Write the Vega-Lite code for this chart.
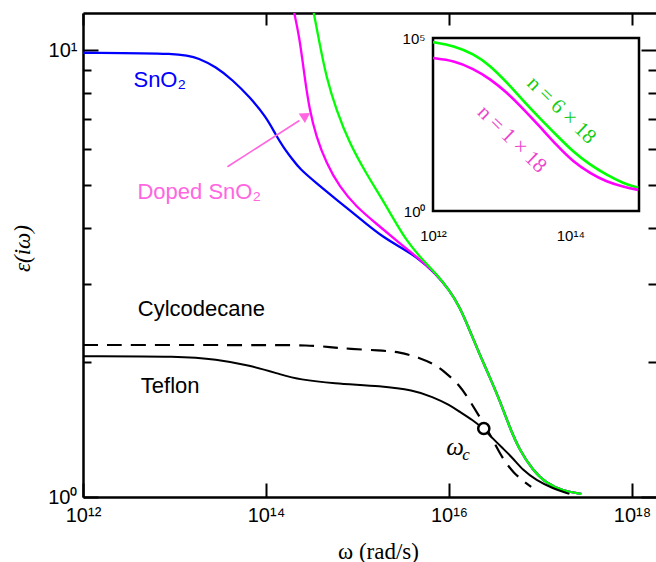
{
  "$schema": "https://vega.github.io/schema/vega-lite/v6.json",
  "width": 573,
  "height": 484,
  "autosize": {"type": "none"},
  "padding": {"left": 83, "top": 13, "right": 0, "bottom": 65},
  "background": "white",
  "config": {
    "view": {"stroke": null},
    "axis": {
      "domainColor": "black", "domainWidth": 2.5, "tickColor": "black", "tickWidth": 2,
      "labelColor": "black", "labelFont": "Liberation Sans", "labelFontSize": 20,
      "grid": false, "labelFlush": false, "labelOverlap": false, "labelBound": false,
      "zindex": 1, "titleColor": "black"
    }
  },
  "datasets": {
    "curves": [
      {"series": "SnO2", "w": 1e12, "eps": 9.86},
      {"series": "SnO2", "w": 1.22e13, "eps": 9.84},
      {"series": "SnO2", "w": 1.86e13, "eps": 9.57},
      {"series": "SnO2", "w": 2.82e13, "eps": 9.18},
      {"series": "SnO2", "w": 4.31e13, "eps": 8.57},
      {"series": "SnO2", "w": 6.55e13, "eps": 7.87},
      {"series": "SnO2", "w": 9.95e13, "eps": 7.10},
      {"series": "SnO2", "w": 1.28e14, "eps": 6.46},
      {"series": "SnO2", "w": 1.53e14, "eps": 6.08},
      {"series": "SnO2", "w": 1.96e14, "eps": 5.68},
      {"series": "SnO2", "w": 2.32e14, "eps": 5.43},
      {"series": "SnO2", "w": 3.54e14, "eps": 5.04},
      {"series": "SnO2", "w": 5.37e14, "eps": 4.70},
      {"series": "SnO2", "w": 8.19e14, "eps": 4.38},
      {"series": "SnO2", "w": 1.24e15, "eps": 4.09},
      {"series": "SnO2", "w": 1.89e15, "eps": 3.82},
      {"series": "SnO2", "w": 2.88e15, "eps": 3.63},
      {"series": "SnO2", "w": 4.38e15, "eps": 3.45},
      {"series": "SnO2", "w": 7.24e15, "eps": 3.16},
      {"series": "SnO2", "w": 1.01e16, "eps": 2.90},
      {"series": "SnO2", "w": 1.30e16, "eps": 2.67},
      {"series": "SnO2", "w": 1.67e16, "eps": 2.37},
      {"series": "SnO2", "w": 2.15e16, "eps": 2.09},
      {"series": "SnO2", "w": 2.77e16, "eps": 1.86},
      {"series": "SnO2", "w": 3.56e16, "eps": 1.65},
      {"series": "SnO2", "w": 4.58e16, "eps": 1.435},
      {"series": "SnO2", "w": 5.89e16, "eps": 1.274},
      {"series": "SnO2", "w": 8.24e16, "eps": 1.148},
      {"series": "SnO2", "w": 1.15e17, "eps": 1.074},
      {"series": "SnO2", "w": 1.75e17, "eps": 1.033},
      {"series": "SnO2", "w": 2.79e17, "eps": 1.016},

      {"series": "Doped1", "w": 1.95e14, "eps": 12.6},
      {"series": "Doped1", "w": 2.32e14, "eps": 10.72},
      {"series": "Doped1", "w": 2.64e14, "eps": 8.71},
      {"series": "Doped1", "w": 2.99e14, "eps": 7.35},
      {"series": "Doped1", "w": 3.54e14, "eps": 6.40},
      {"series": "Doped1", "w": 4.55e14, "eps": 5.59},
      {"series": "Doped1", "w": 6.35e14, "eps": 4.94},
      {"series": "Doped1", "w": 9.68e14, "eps": 4.46},
      {"series": "Doped1", "w": 1.60e15, "eps": 4.09},
      {"series": "Doped1", "w": 2.88e15, "eps": 3.70},
      {"series": "Doped1", "w": 4.38e15, "eps": 3.45},
      {"series": "Doped1", "w": 7.24e15, "eps": 3.16},
      {"series": "Doped1", "w": 1.01e16, "eps": 2.90},
      {"series": "Doped1", "w": 1.30e16, "eps": 2.67},
      {"series": "Doped1", "w": 1.67e16, "eps": 2.37},
      {"series": "Doped1", "w": 2.15e16, "eps": 2.09},
      {"series": "Doped1", "w": 2.77e16, "eps": 1.86},
      {"series": "Doped1", "w": 3.56e16, "eps": 1.65},
      {"series": "Doped1", "w": 4.58e16, "eps": 1.435},
      {"series": "Doped1", "w": 5.89e16, "eps": 1.274},
      {"series": "Doped1", "w": 8.24e16, "eps": 1.148},
      {"series": "Doped1", "w": 1.15e17, "eps": 1.074},
      {"series": "Doped1", "w": 1.75e17, "eps": 1.033},
      {"series": "Doped1", "w": 2.79e17, "eps": 1.016},

      {"series": "Doped6", "w": 3.22e14, "eps": 12.6},
      {"series": "Doped6", "w": 3.33e14, "eps": 12.08},
      {"series": "Doped6", "w": 3.85e14, "eps": 10.35},
      {"series": "Doped6", "w": 4.55e14, "eps": 8.71},
      {"series": "Doped6", "w": 5.85e14, "eps": 7.35},
      {"series": "Doped6", "w": 8.19e14, "eps": 6.18},
      {"series": "Doped6", "w": 1.24e15, "eps": 5.30},
      {"series": "Doped6", "w": 1.89e15, "eps": 4.61},
      {"series": "Doped6", "w": 2.65e15, "eps": 4.09},
      {"series": "Doped6", "w": 3.40e15, "eps": 3.76},
      {"series": "Doped6", "w": 4.76e15, "eps": 3.45},
      {"series": "Doped6", "w": 7.24e15, "eps": 3.16},
      {"series": "Doped6", "w": 1.01e16, "eps": 2.90},
      {"series": "Doped6", "w": 1.30e16, "eps": 2.67},
      {"series": "Doped6", "w": 1.67e16, "eps": 2.37},
      {"series": "Doped6", "w": 2.15e16, "eps": 2.09},
      {"series": "Doped6", "w": 2.77e16, "eps": 1.86},
      {"series": "Doped6", "w": 3.56e16, "eps": 1.65},
      {"series": "Doped6", "w": 4.58e16, "eps": 1.435},
      {"series": "Doped6", "w": 5.89e16, "eps": 1.274},
      {"series": "Doped6", "w": 8.24e16, "eps": 1.148},
      {"series": "Doped6", "w": 1.15e17, "eps": 1.074},
      {"series": "Doped6", "w": 1.75e17, "eps": 1.033},
      {"series": "Doped6", "w": 2.79e17, "eps": 1.016},

      {"series": "Cyclo", "w": 1e12, "eps": 2.188},
      {"series": "Cyclo", "w": 1e14, "eps": 2.188},
      {"series": "Cyclo", "w": 2.96e14, "eps": 2.185},
      {"series": "Cyclo", "w": 5.0e14, "eps": 2.165},
      {"series": "Cyclo", "w": 8.11e14, "eps": 2.145},
      {"series": "Cyclo", "w": 1.74e15, "eps": 2.128},
      {"series": "Cyclo", "w": 2.88e15, "eps": 2.11},
      {"series": "Cyclo", "w": 4.76e15, "eps": 2.05},
      {"series": "Cyclo", "w": 7.24e15, "eps": 1.972},
      {"series": "Cyclo", "w": 9.31e15, "eps": 1.892},
      {"series": "Cyclo", "w": 1.30e16, "eps": 1.782},
      {"series": "Cyclo", "w": 1.67e16, "eps": 1.648},
      {"series": "Cyclo", "w": 2.15e16, "eps": 1.514},
      {"series": "Cyclo", "w": 2.77e16, "eps": 1.390},
      {"series": "Cyclo", "w": 3.56e16, "eps": 1.253},
      {"series": "Cyclo", "w": 4.98e16, "eps": 1.130},
      {"series": "Cyclo", "w": 7.91e16, "eps": 1.054},

      {"series": "Teflon", "w": 1e12, "eps": 2.065},
      {"series": "Teflon", "w": 1.22e13, "eps": 2.065},
      {"series": "Teflon", "w": 2.82e13, "eps": 2.032},
      {"series": "Teflon", "w": 6.55e13, "eps": 1.972},
      {"series": "Teflon", "w": 1.51e14, "eps": 1.875},
      {"series": "Teflon", "w": 2.31e14, "eps": 1.832},
      {"series": "Teflon", "w": 5.33e14, "eps": 1.795},
      {"series": "Teflon", "w": 1.87e15, "eps": 1.770},
      {"series": "Teflon", "w": 4.02e15, "eps": 1.734},
      {"series": "Teflon", "w": 6.65e15, "eps": 1.675},
      {"series": "Teflon", "w": 1.01e16, "eps": 1.607},
      {"series": "Teflon", "w": 1.30e16, "eps": 1.552},
      {"series": "Teflon", "w": 1.82e16, "eps": 1.486},
      {"series": "Teflon", "w": 2.34e16, "eps": 1.426},
      {"series": "Teflon", "w": 3.01e16, "eps": 1.352},
      {"series": "Teflon", "w": 3.87e16, "eps": 1.285},
      {"series": "Teflon", "w": 4.98e16, "eps": 1.222},
      {"series": "Teflon", "w": 6.41e16, "eps": 1.148},
      {"series": "Teflon", "w": 8.97e16, "eps": 1.091},
      {"series": "Teflon", "w": 1.36e17, "eps": 1.045},
      {"series": "Teflon", "w": 2.07e17, "eps": 1.016}
    ],
    "inset": [
      {"series": "n6", "w": 1e12, "eps": 75860},
      {"series": "n6", "w": 2.00e12, "eps": 60256},
      {"series": "n6", "w": 3.89e12, "eps": 34674},
      {"series": "n6", "w": 6.76e12, "eps": 16218},
      {"series": "n6", "w": 1.17e13, "eps": 5370},
      {"series": "n6", "w": 2.04e13, "eps": 1585},
      {"series": "n6", "w": 3.63e13, "eps": 468},
      {"series": "n6", "w": 6.31e13, "eps": 155},
      {"series": "n6", "w": 1.10e14, "eps": 51.3},
      {"series": "n6", "w": 1.95e14, "eps": 21.4},
      {"series": "n6", "w": 3.39e14, "eps": 11.0},
      {"series": "n6", "w": 5.89e14, "eps": 6.31},
      {"series": "n6", "w": 9.77e14, "eps": 4.68},
      {"series": "n1", "w": 1e12, "eps": 26303},
      {"series": "n1", "w": 2.00e12, "eps": 22387},
      {"series": "n1", "w": 3.89e12, "eps": 12882},
      {"series": "n1", "w": 6.76e12, "eps": 6607},
      {"series": "n1", "w": 1.17e13, "eps": 2754},
      {"series": "n1", "w": 2.04e13, "eps": 912},
      {"series": "n1", "w": 3.63e13, "eps": 269},
      {"series": "n1", "w": 6.31e13, "eps": 79.4},
      {"series": "n1", "w": 1.10e14, "eps": 26.3},
      {"series": "n1", "w": 1.95e14, "eps": 12.3},
      {"series": "n1", "w": 3.39e14, "eps": 6.92},
      {"series": "n1", "w": 5.89e14, "eps": 5.01},
      {"series": "n1", "w": 9.77e14, "eps": 4.07}
    ]
  },
  "layer": [
    {
      "data": {"name": "curves"},
      "encoding": {
        "x": {"field": "w", "type": "quantitative", "scale": {"type": "log", "domain": [1e12, 1.83e18], "nice": false}, "axis": null},
        "y": {"field": "eps", "type": "quantitative", "scale": {"type": "log", "domain": [1, 12.1], "nice": false}, "axis": null}
      },
      "layer": [
        {
          "transform": [{"filter": "datum.series == 'SnO2'"}],
          "mark": {"type": "line", "color": "#0000ff", "strokeWidth": 2.3, "interpolate": "basis", "clip": true},
          "encoding": {
            "x": {"field": "w", "type": "quantitative", "scale": {"type": "log", "domain": [1e12, 1.83e18], "nice": false},
              "axis": {"orient": "bottom", "values": [1e12, 1e14, 1e16, 1e18], "tickSize": -14, "labelPadding": 22,
                "labelExpr": "datum.value < 1e13 ? '10¹²' : datum.value < 1e15 ? '10¹⁴' : datum.value < 1e17 ? '10¹⁶' : '10¹⁸'",
                "title": "ω (rad/s)", "titleFont": "Liberation Serif", "titleFontSize": 23, "titleFontWeight": "normal",
                "titleX": 295, "titleY": 61, "titleAlign": "center", "titleBaseline": "alphabetic"}},
            "y": {"field": "eps", "type": "quantitative", "scale": {"type": "log", "domain": [1, 12.1], "nice": false},
              "axis": {"orient": "left", "values": [1, 10], "tickSize": -15, "labelPadding": 21, "labelBaseline": "middle",
                "labelExpr": "datum.value < 5 ? '10⁰' : '10¹'",
                "title": "ε(iω)", "titleFont": "Liberation Serif", "titleFontStyle": "italic", "titleFontSize": 23, "titleFontWeight": "normal",
                "titleAngle": -90, "titleX": -61, "titleY": 235, "titleAlign": "center", "titleBaseline": "middle"}}
          }
        },
        {
          "transform": [{"filter": "datum.series == 'Doped1'"}],
          "mark": {"type": "line", "color": "#ff00ff", "strokeWidth": 2.3, "interpolate": "basis", "clip": true},
          "encoding": {
            "x": {"field": "w", "type": "quantitative", "scale": {"type": "log", "domain": [1e12, 1.83e18], "nice": false},
              "axis": {"orient": "top", "values": [1e12, 1e14, 1e16, 1e18], "tickSize": -12, "labels": false, "title": null}},
            "y": {"field": "eps", "type": "quantitative", "scale": {"type": "log", "domain": [1, 12.1], "nice": false},
              "axis": {"orient": "left", "values": [2, 3, 4, 5, 6, 7, 8, 9], "tickSize": -8, "labels": false, "domain": false, "title": null}}
          }
        },
        {
          "transform": [{"filter": "datum.series == 'Doped6'"}],
          "mark": {"type": "line", "color": "#00ff00", "strokeWidth": 2.3, "interpolate": "basis", "clip": true},
          "encoding": {
            "y": {"field": "eps", "type": "quantitative", "scale": {"type": "log", "domain": [1, 12.1], "nice": false},
              "axis": {"orient": "right", "values": [1, 10], "tickSize": -15, "labels": false, "domain": false, "title": null}}
          }
        },
        {
          "transform": [{"filter": "datum.series == 'Cyclo'"}],
          "mark": {"type": "line", "color": "black", "strokeWidth": 2.2, "strokeDash": [15, 9], "interpolate": "basis", "clip": true},
          "encoding": {
            "y": {"field": "eps", "type": "quantitative", "scale": {"type": "log", "domain": [1, 12.1], "nice": false},
              "axis": {"orient": "right", "values": [2, 3, 4, 5, 6, 7, 8, 9], "tickSize": -8, "labels": false, "domain": false, "title": null}}
          }
        },
        {
          "transform": [{"filter": "datum.series == 'Teflon'"}],
          "mark": {"type": "line", "color": "black", "strokeWidth": 2, "interpolate": "basis", "clip": true}
        },
        {
          "data": {"values": [{"w": 3.79e13, "eps": 5.48}, {"w": 2.32e14, "eps": 6.956}]},
          "mark": {"type": "line", "color": "#ff66e0", "strokeWidth": 1.6}
        },
        {
          "data": {"values": [{"w": 2.64e14, "eps": 7.10}]},
          "mark": {"type": "point", "shape": "triangle", "angle": 57, "size": 130, "filled": true, "color": "#ff66e0", "opacity": 1}
        },
        {
          "data": {"values": [{"w": 2.40e16, "eps": 1.423}]},
          "mark": {"type": "point", "shape": "circle", "size": 125, "filled": true, "fill": "white", "stroke": "black", "strokeWidth": 2.5, "opacity": 1}
        },
        {
          "data": {"values": [{"w": 3.56e12, "eps": 8.25, "label": "SnO₂"}]},
          "mark": {"type": "text", "align": "left", "baseline": "alphabetic", "font": "Liberation Sans", "fontSize": 22, "color": "#0000ff"},
          "encoding": {"text": {"field": "label"}}
        },
        {
          "data": {"values": [{"w": 3.94e12, "eps": 4.634, "label": "Doped SnO₂"}]},
          "mark": {"type": "text", "align": "left", "baseline": "alphabetic", "font": "Liberation Sans", "fontSize": 22, "color": "#ff66e0"},
          "encoding": {"text": {"field": "label"}}
        },
        {
          "data": {"values": [{"w": 3.97e12, "eps": 2.541, "label": "Cylcodecane"}, {"w": 4.29e12, "eps": 1.706, "label": "Teflon"}]},
          "mark": {"type": "text", "align": "left", "baseline": "alphabetic", "font": "Liberation Sans", "fontSize": 22, "color": "black"},
          "encoding": {"text": {"field": "label"}}
        },
        {
          "data": {"values": [{"w": 9.31e15, "eps": 1.241, "label": "ω"}]},
          "mark": {"type": "text", "align": "left", "baseline": "alphabetic", "font": "Liberation Serif", "fontStyle": "italic", "fontSize": 25, "color": "black"},
          "encoding": {"text": {"field": "label"}}
        },
        {
          "data": {"values": [{"w": 1.40e16, "eps": 1.21, "label": "c"}]},
          "mark": {"type": "text", "align": "left", "baseline": "alphabetic", "font": "Liberation Serif", "fontStyle": "italic", "fontSize": 17, "color": "black"},
          "encoding": {"text": {"field": "label"}}
        }
      ],
      "resolve": {"axis": {"x": "independent", "y": "independent"}}
    },
    {
      "data": {"name": "inset"},
      "encoding": {
        "x": {"field": "w", "type": "quantitative", "scale": {"type": "log", "domain": [1e12, 1e15], "range": [350, 556], "nice": false}, "axis": null},
        "y": {"field": "eps", "type": "quantitative", "scale": {"type": "log", "domain": [1, 1e5], "range": [198, 25], "nice": false}, "axis": null}
      },
      "layer": [
        {
          "data": {"values": [{"w": 1e12, "w2": 1e15, "eps": 1, "eps2": 1e5}]},
          "mark": {"type": "rect", "fill": "white", "stroke": "black", "strokeWidth": 2.5},
          "encoding": {
            "x": {"field": "w", "type": "quantitative", "scale": {"type": "log", "domain": [1e12, 1e15], "range": [350, 556], "nice": false},
              "axis": {"orient": "bottom", "offset": -286, "values": [1e12, 1e14], "tickSize": -6, "domain": false, "labelFontSize": 15, "labelPadding": 23,
                "labelExpr": "datum.value < 1e13 ? '10¹²' : '10¹⁴'", "title": null}},
            "x2": {"field": "w2"},
            "y": {"field": "eps", "type": "quantitative", "scale": {"type": "log", "domain": [1, 1e5], "range": [198, 25], "nice": false},
              "axis": {"orient": "left", "offset": -350, "values": [1, 1e5], "ticks": false, "domain": false, "labelFontSize": 15, "labelPadding": 8, "labelBaseline": "middle",
                "labelExpr": "datum.value < 10 ? '10⁰' : '10⁵'", "title": null}},
            "y2": {"field": "eps2"}
          }
        },
        {
          "transform": [{"filter": "datum.series == 'n6'"}],
          "mark": {"type": "line", "color": "#00ff00", "strokeWidth": 2.6, "interpolate": "basis"},
          "encoding": {
            "x": {"field": "w", "type": "quantitative", "scale": {"type": "log", "domain": [1e12, 1e15], "range": [350, 556], "nice": false},
              "axis": {"orient": "top", "offset": -25, "values": [1e14], "tickSize": -6, "domain": false, "labels": false, "title": null}}
          }
        },
        {
          "transform": [{"filter": "datum.series == 'n1'"}],
          "mark": {"type": "line", "color": "#ff00ff", "strokeWidth": 2.6, "interpolate": "basis"}
        },
        {
          "data": {"values": [{"w": 7.41e13, "eps": 813, "label": "n = 6 × 18"}]},
          "mark": {"type": "text", "align": "center", "baseline": "middle", "angle": 44, "font": "Liberation Serif", "fontSize": 21, "color": "#11cc11"},
          "encoding": {"text": {"field": "label"}}
        },
        {
          "data": {"values": [{"w": 1.41e13, "eps": 117.5, "label": "n = 1 × 18"}]},
          "mark": {"type": "text", "align": "center", "baseline": "middle", "angle": 44, "font": "Liberation Serif", "fontSize": 21, "color": "#ee44cc"},
          "encoding": {"text": {"field": "label"}}
        }
      ],
      "resolve": {"axis": {"x": "independent", "y": "independent"}}
    }
  ],
  "resolve": {"scale": {"x": "independent", "y": "independent"}, "axis": {"x": "independent", "y": "independent"}}
}
